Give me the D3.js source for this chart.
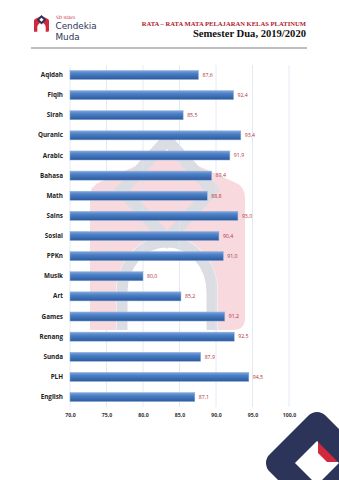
<!DOCTYPE html>
<html>
<head>
<meta charset="utf-8">
<script src="https://cdn.jsdelivr.net/npm/d3@7"></script>
<style>
  html, body { margin: 0; padding: 0; background: #fff; }
  svg { display: block; }
</style>
</head>
<body>
<div id="chart"></div>
<script>
const subjects = ["Aqidah", "Fiqih", "Sirah", "Quranic", "Arabic", "Bahasa", "Math", "Sains",
  "Sosial", "PPKn", "Musik", "Art", "Games", "Renang", "Sunda", "PLH", "English"];
const averages = [87.6, 92.4, 85.5, 93.4, 91.9, 89.4, 88.8, 93.0,
  90.4, 91.0, 80.0, 85.2, 91.2, 92.5, 87.9, 94.5, 87.1];
const xTicks = [70, 75, 80, 85, 90, 95, 100];
const titleLine1 = "RATA – RATA MATA PELAJARAN KELAS PLATINUM";
const titleLine2 = "Semester Dua, 2019/2020";

const W = 339, H = 480;
const margin = { top: 65, right: 50, bottom: 73, left: 70 };
const fmt = v => d3.format(".1f")(v).replace(".", ",");

const svg = d3.select("#chart").append("svg")
  .attr("width", W).attr("height", H);

const defs = svg.append("defs");
const grad = defs.append("linearGradient")
  .attr("id", "barGrad").attr("x1", 0).attr("y1", 0).attr("x2", 0).attr("y2", 1);
grad.append("stop").attr("offset", "0%").attr("stop-color", "#7fa6dc");
grad.append("stop").attr("offset", "35%").attr("stop-color", "#4b7fc6");
grad.append("stop").attr("offset", "100%").attr("stop-color", "#2c5a9c");

// ---- header ----
const header = svg.append("g");
// small logo icon
function logoIcon(g, house, diamond, inner) {
  // house with arch opening, in a 100 x 120 box
  g.append("path")
    .attr("d", "M0,120 L0,40 Q0,32 8,28 L50,6 L92,28 Q100,32 100,40 L100,112 Q100,120 92,120 L78,120 L78,88 A28,32 0 0 0 22,88 L22,120 Z")
    .attr("fill", house);
  g.append("path")
    .attr("d", "M50,0 L82,34 L50,68 L18,34 Z")
    .attr("fill", diamond);
  g.append("path")
    .attr("d", "M50,20 L64,34 L50,48 L36,34 Z")
    .attr("fill", inner);
}
logoIcon(header.append("g").attr("transform", "translate(34,15) scale(0.15,0.14)"), "#d2283c", "#2d3459", "#fff");

header.append("text").attr("x", 56).attr("y", 19)
  .attr("font-family", "DejaVu Sans, sans-serif").attr("font-size", 4.4)
  .attr("fill", "#d2283c").text("SD Islam");
header.append("text").attr("x", 55.5).attr("y", 29.3)
  .attr("font-family", "DejaVu Sans, sans-serif").attr("font-size", 8.8)
  .attr("fill", "#2d3459").text("Cendekia");
header.append("text").attr("x", 55.5).attr("y", 39.7)
  .attr("font-family", "DejaVu Sans, sans-serif").attr("font-size", 8.8)
  .attr("fill", "#2d3459").text("Muda");

header.append("text").attr("x", 306).attr("y", 26)
  .attr("text-anchor", "end")
  .attr("font-family", "Liberation Serif, serif").attr("font-weight", "bold")
  .attr("font-size", 6.6).attr("fill", "#b0202a").text(titleLine1);
header.append("text").attr("x", 306).attr("y", 37)
  .attr("text-anchor", "end")
  .attr("font-family", "Liberation Serif, serif").attr("font-weight", "bold")
  .attr("font-size", 10.6).attr("fill", "#111").text(titleLine2);
header.append("line")
  .attr("x1", 31).attr("x2", 307).attr("y1", 48).attr("y2", 48)
  .attr("stroke", "#a8a8a8").attr("stroke-width", 1.4);

// ---- faint watermark behind plot ----
const wm = svg.append("g");
wm.append("path")
  .attr("d", "M90,330 L90,196 Q90,186 100,182 L167,152 L234,182 Q245,186 245,198 L245,318 Q245,330 233,330 L218,330 L218,292 A51,56 0 0 0 116,292 L116,330 Z")
  .attr("fill", "#f8d9dd");
wm.append("path")
  .attr("d", "M167,140 L212,190 L167,240 L122,190 Z")
  .attr("fill", "none").attr("stroke", "#dcdde3").attr("stroke-width", 12);
wm.append("path")
  .attr("d", "M122,330 L122,292 A45,50 0 0 1 212,292 L212,330")
  .attr("fill", "none").attr("stroke", "#dcdde3").attr("stroke-width", 11);

// ---- bottom-right decoration ----
const br = svg.append("g");
br.append("path").attr("d", "M318,430 L345,430 L345,462 L318,462 Z").attr("fill", "#d2283c");
br.append("path")
  .attr("d", "M317,424 L356,463 L317,502 L278,463 Z")
  .attr("fill", "none").attr("stroke", "#2d3459").attr("stroke-width", 24)
  .attr("stroke-linejoin", "round");
br.append("path").attr("d", "M317,452 L328,463 L317,474 L306,463 Z").attr("fill", "#fff");

// ---- chart ----
const innerW = W - margin.left - margin.right;
const innerH = H - margin.top - margin.bottom;
const g = svg.append("g").attr("transform", `translate(${margin.left},${margin.top})`);

const x = d3.scaleLinear().domain([70, 100]).range([0, 219]);
const y = d3.scaleBand().domain(subjects).range([0, innerH]).paddingInner(0.55).paddingOuter(0.27);

g.append("g").selectAll("line").data(xTicks).join("line")
  .attr("x1", d => x(d)).attr("x2", d => x(d))
  .attr("y1", 0).attr("y2", innerH)
  .attr("stroke", "#dde4ef").attr("stroke-width", 0.8);

const xAxis = g.append("g").attr("transform", `translate(0,${innerH})`)
  .call(d3.axisBottom(x).tickValues(xTicks).tickFormat(fmt).tickSize(0).tickPadding(6));
xAxis.select(".domain").remove();
xAxis.selectAll("text")
  .attr("font-family", "Open Sans, sans-serif").attr("font-weight", "bold")
  .attr("font-size", 5.2).attr("fill", "#333");

const yAxis = g.append("g")
  .call(d3.axisLeft(y).tickSize(0).tickPadding(7));
yAxis.select(".domain").remove();
yAxis.selectAll("text")
  .attr("font-family", "Open Sans, sans-serif").attr("font-weight", "bold")
  .attr("font-size", 6.3).attr("fill", "#222");

const rows = subjects.map((s, i) => ({ s, v: averages[i] }));

g.append("g").selectAll("rect").data(rows).join("rect")
  .attr("x", x(70))
  .attr("y", d => y(d.s))
  .attr("width", d => x(d.v) - x(70))
  .attr("height", y.bandwidth())
  .attr("fill", "url(#barGrad)")
  .attr("stroke", "#8fb0dc").attr("stroke-width", 0.5);

g.append("g").selectAll("text").data(rows).join("text")
  .attr("x", d => x(d.v) + 4)
  .attr("y", d => y(d.s) + y.bandwidth() / 2)
  .attr("dy", "0.35em")
  .attr("font-family", "Open Sans, sans-serif")
  .attr("font-size", 5.2).attr("fill", "#b0303a")
  .text(d => fmt(d.v));
</script>
</body>
</html>
